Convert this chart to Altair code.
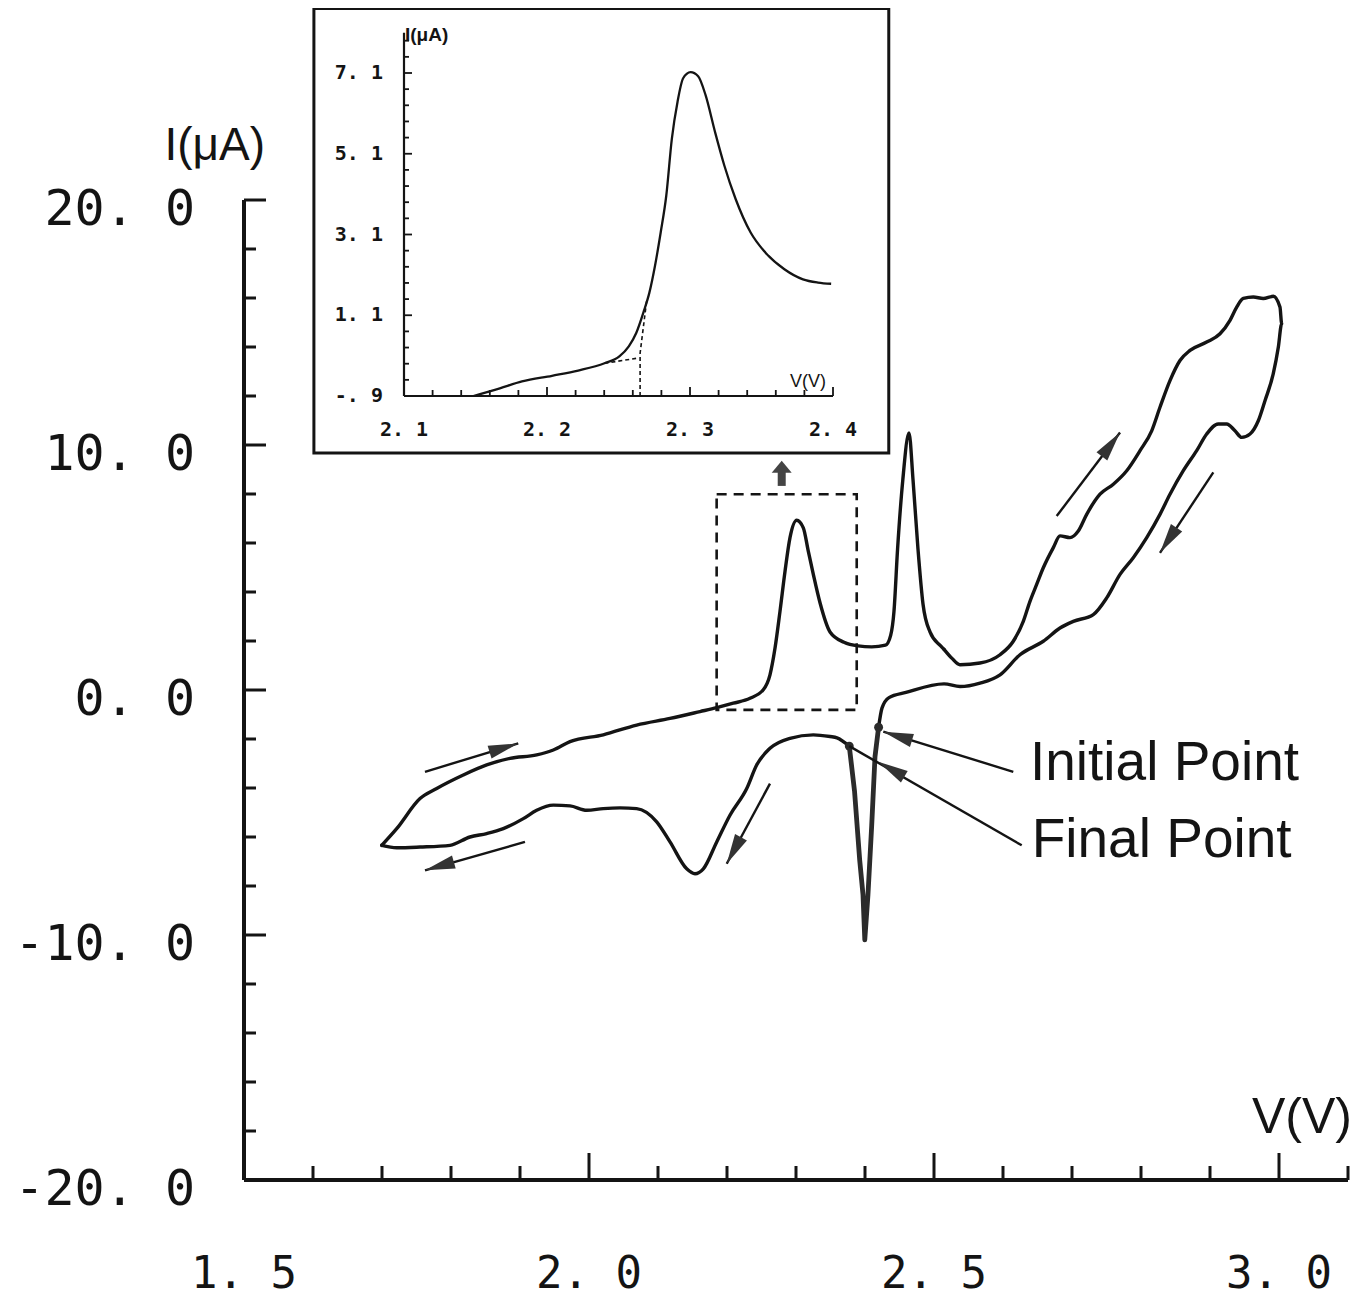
import math
import altair as alt
import pandas as pd

# ---------------- data (V in volts, I in microamps) ----------------
# main cyclic voltammogram, split into four consecutive pieces of one closed trace
fwd_right_v = [2.4197, 2.4246, 2.4348, 2.4594, 2.5145, 2.5377, 2.5667, 2.5957, 2.6246, 2.6584,
               2.6826, 2.7019, 2.7309, 2.7503, 2.7696, 2.7888, 2.8083, 2.8275, 2.8420, 2.8613,
               2.8807, 2.8952, 2.9120, 2.9242, 2.9362, 2.9459, 2.9580, 2.9700, 2.9797, 2.9917,
               2.9990, 3.0039, 3.0014, 2.9917, 2.9772, 2.9628, 2.9483, 2.9387, 2.9290, 2.9145,
               2.8952, 2.8710, 2.8565, 2.8420, 2.8275, 2.8155, 2.7986, 2.7793, 2.7599, 2.7406,
               2.7213, 2.7091, 2.6971, 2.6826, 2.6729, 2.6584, 2.6488, 2.6391, 2.6294, 2.6149,
               2.5957, 2.5667, 2.5377, 2.5261, 2.5145]
fwd_right_i = [-1.52, -0.74, -0.31, -0.10, 0.25, 0.14, 0.28, 0.62, 1.44, 1.99,
               2.53, 2.80, 3.08, 3.76, 4.72, 5.40, 6.22, 7.17, 7.99, 8.95,
               9.77, 10.45, 10.86, 10.86, 10.58, 10.31, 10.45, 10.99, 11.81, 12.91,
               13.99, 14.95, 15.63, 16.07, 15.98, 16.04, 15.98, 15.63, 15.09, 14.54,
               14.20, 13.86, 13.45, 12.63, 11.54, 10.58, 9.77, 8.95, 8.40, 7.99,
               7.17, 6.49, 6.22, 6.29, 5.81, 4.99, 4.31, 3.62, 2.80, 1.99,
               1.44, 1.10, 1.03, 1.29, 1.66]
peaks_v = [2.5145, 2.5097, 2.4942, 2.4841, 2.4768, 2.4696, 2.4638, 2.4548, 2.4472, 2.4420,
           2.4372, 2.4297, 2.4097, 2.3899, 2.3696, 2.3493, 2.3348, 2.3251, 2.3178, 2.3106,
           2.3010, 2.2913, 2.2841, 2.2768, 2.2696, 2.2623, 2.2526, 2.2333, 2.2091, 2.1851,
           2.1609, 2.1174, 2.0691, 2.0207, 1.9725, 1.9483, 1.9242, 1.8855, 1.8517, 1.8178,
           1.7793, 1.7551, 1.7213, 1.6996]
peaks_i = [1.66, 1.80, 2.37, 3.50, 5.75, 8.58, 10.49, 8.58, 5.75, 3.21,
           2.23, 1.83, 1.76, 1.80, 1.95, 2.37, 3.56, 4.72, 5.67, 6.62,
           6.93, 6.22, 4.85, 3.21, 1.71, 0.62, 0.01, -0.34, -0.54, -0.72,
           -0.88, -1.16, -1.43, -1.83, -2.11, -2.45, -2.65, -2.79, -3.06, -3.47,
           -4.02, -4.43, -5.66, -6.34]
return_left_v = [1.6996, 1.7213, 1.7551, 1.7986, 1.8275, 1.8517, 1.8758, 1.9048, 1.9242, 1.9483,
                 1.9725, 1.9967, 2.0207, 2.0449, 2.0691, 2.0981, 2.1174, 2.1416, 2.1536, 2.1657,
                 2.1851, 2.2043, 2.2286, 2.2430, 2.2623, 2.2913, 2.3251, 2.3493, 2.3594, 2.3772]
return_left_i = [-6.34, -6.44, -6.41, -6.34, -6.00, -5.86, -5.66, -5.25, -4.91, -4.70,
                 -4.73, -4.91, -4.84, -4.81, -4.84, -5.38, -6.20, -7.30, -7.50, -7.30,
                 -6.20, -5.11, -4.02, -3.06, -2.38, -1.97, -1.83, -1.90, -1.95, -2.29]
spike_v = [2.3772, 2.3848, 2.3923, 2.3971, 2.3997, 2.4043, 2.4097, 2.4145, 2.4197]
spike_i = [-2.29, -4.12, -6.94, -8.36, -10.20, -8.36, -5.54, -2.72, -1.52]

# initial / final points
marker_v = [2.4197, 2.3772]
marker_i = [-1.52, -2.29]

# sweep-direction arrows (tail -> tip)
arrow_tail_v = [1.7623, 1.9072, 2.2623, 2.6778, 2.9048]
arrow_tail_i = [-3.34, -6.20, -3.82, 7.10, 8.88]
arrow_tip_v = [1.8975, 1.7623, 2.1996, 2.7696, 2.8275]
arrow_tip_i = [-2.18, -7.36, -7.09, 10.51, 5.60]

# callouts: text anchor, line end, arrow head tip
callout_text = ["Initial Point", "Final Point"]
callout_text_v = [2.6391, 2.6416]
callout_text_i = [-3.66, -6.82]
callout_tail_v = [2.6149, 2.6271]
callout_tail_i = [-3.34, -6.34]
callout_end_v = [2.4265, 2.3772]
callout_end_i = [-1.70, -2.29]
callout_head_v = [2.4265, 2.4193]
callout_head_i = [-1.70, -2.93]

# dashed zoom box and the block arrow pointing to the inset
zoom_box_v = [2.185, 2.388]
zoom_box_i = [-0.81, 7.99]
up_arrow_v = [2.2793]
up_arrow_i = [8.33, 9.36]

# main axes
main_x_major = [2.0, 2.5, 3.0]
main_x_minor = [1.6, 1.7, 1.8, 1.9, 2.1, 2.2, 2.3, 2.4, 2.6, 2.7, 2.8, 2.9, 3.1]
main_x_label_vals = [1.5, 2.0, 2.5, 3.0]
main_x_labels = ["1. 5", "2. 0", "2. 5", "3. 0"]
main_y_major = [-20, -10, 0, 10, 20]
main_y_minor = [-18, -16, -14, -12, -8, -6, -4, -2, 2, 4, 6, 8, 12, 14, 16, 18]
main_y_label_vals = [-20, -10, 0, 10, 20]
main_y_labels = ["-20. 0", "-10. 0", "0. 0", "10. 0", "20. 0"]

# inset (zoom of the 2.1-2.4 V region)
inset_v = [2.1485, 2.167, 2.1825, 2.2035, 2.2218, 2.2402, 2.2506, 2.2572, 2.2624, 2.2677,
           2.2716, 2.2755, 2.2795, 2.2834, 2.2873, 2.2913, 2.2952, 2.3004, 2.3057, 2.3109,
           2.3175, 2.324, 2.3319, 2.3424, 2.3528, 2.366, 2.379, 2.3895, 2.3987]
inset_i = [-0.9, -0.71, -0.54, -0.40, -0.27, -0.09, 0.08, 0.33, 0.66, 1.20,
           1.66, 2.32, 3.15, 4.06, 5.47, 6.39, 6.97, 7.12, 7.02, 6.55,
           5.64, 4.81, 3.98, 3.15, 2.65, 2.24, 1.99, 1.91, 1.88]
inset_tangent_v = [2.2402, 2.2638]
inset_tangent_i = [-0.09, 0.04]
inset_drop_v = [2.2651, 2.2651, 2.2698]
inset_drop_i = [-0.9, 0.16, 1.49]
inset_frame_v = [2.037, 2.439]
inset_frame_i = [-2.31, 8.70]
inset_x_minor = [2.12, 2.14, 2.16, 2.18, 2.22, 2.24, 2.26, 2.28, 2.32, 2.34, 2.36, 2.38]
inset_x_major = [2.2, 2.3, 2.4]
inset_x_label_vals = [2.1, 2.2, 2.3, 2.4]
inset_x_labels = ["2. 1", "2. 2", "2. 3", "2. 4"]
inset_y_minor = [-0.5, -0.1, 0.3, 0.7, 1.5, 1.9, 2.3, 2.7, 3.5, 3.9, 4.3, 4.7,
                 5.5, 5.9, 6.3, 6.7, 7.5, 7.9]
inset_y_major = [1.1, 3.1, 5.1, 7.1]
inset_y_label_vals = [-0.9, 1.1, 3.1, 5.1, 7.1]
inset_y_labels = ["-. 9", "1. 1", "3. 1", "5. 1", "7. 1"]
inset_y_top = 8.1

# ---------------- scales (both panels share one view) ----------------
W, H = 1355, 1296
MX_D, MX_R = [1.5, 3.1], [236, 1340]
MY_D, MY_R = [-20, 20], [1172, 192]
IX_D, IX_R = [2.1, 2.4], [396, 825]
IY_D, IY_R = [-0.9, 7.1], [388, 65]

def scale(d, r):
    return alt.Scale(domain=d, range=r, zero=False, nice=False)

mx, my = scale(MX_D, MX_R), scale(MY_D, MY_R)
ix, iy = scale(IX_D, IX_R), scale(IY_D, IY_R)
PXV = (MX_R[1] - MX_R[0]) / (MX_D[1] - MX_D[0])
PXI = (MY_R[0] - MY_R[1]) / (MY_D[1] - MY_D[0])
IPXV = (IX_R[1] - IX_R[0]) / (IX_D[1] - IX_D[0])
IPXI = (IY_R[0] - IY_R[1]) / (IY_D[1] - IY_D[0])

INK = "#141414"
MONO = "DejaVu Sans Mono"
SANS = "Liberation Sans"
HEAD = "M0,0 L0.45,2 L-0.45,2 Z"      # arrow head with its tip at the anchor
BLOCK_HEAD = "M0,0 L1,1.2 L-1,1.2 Z"


def xy(sx, sy):
    return dict(x=alt.X("v:Q", scale=sx, axis=None), y=alt.Y("i:Q", scale=sy, axis=None))


def xy2():
    return dict(x2=alt.X2("v2:Q"), y2=alt.Y2("i2:Q"))


def rules(df, sx, sy, **kw):
    return alt.Chart(df).mark_rule(**kw).encode(**xy(sx, sy), **xy2())


def seg(v, i, name):
    return pd.DataFrame({"v": v, "i": i, "seg": name, "k": range(len(v))})


def angle(v0, i0, v1, i1, pxv, pxi):
    dx = (v1 - v0) * pxv
    dy = -(i1 - i0) * pxi
    return math.degrees(math.atan2(dx, -dy)) % 360


# ---------------- main panel ----------------
curve = pd.concat([seg(fwd_right_v, fwd_right_i, "a"), seg(peaks_v, peaks_i, "b"),
                   seg(return_left_v, return_left_i, "c")])
main_line = alt.Chart(curve).mark_line(color=INK, strokeWidth=3.4, strokeJoin="round",
                                       strokeCap="round", interpolate="monotone").encode(
    **xy(mx, my), detail="seg:N", order="k:Q")
spike_line = alt.Chart(seg(spike_v, spike_i, "d")).mark_line(
    color="#2b2b2b", strokeWidth=4.8, strokeJoin="round", strokeCap="round").encode(
    **xy(mx, my), order="k:Q")
markers = alt.Chart(pd.DataFrame({"v": marker_v, "i": marker_i})).mark_point(
    filled=True, color="#2b2b2b", size=80, opacity=1).encode(**xy(mx, my))

axis_lines = rules(pd.DataFrame({"v": [1.5, 1.5], "i": [-20, -20], "v2": [1.5, 3.1], "i2": [20, -20]}),
                   mx, my, color=INK, strokeWidth=4)
y_ticks = pd.DataFrame({"i": main_y_major + main_y_minor})
y_ticks["v"] = 1.5
y_ticks["v2"] = [1.5 + (22 if t in main_y_major else 12) / PXV for t in y_ticks["i"]]
y_ticks["i2"] = y_ticks["i"]
x_ticks = pd.DataFrame({"v": main_x_major + main_x_minor})
x_ticks["i"] = -20
x_ticks["v2"] = x_ticks["v"]
x_ticks["i2"] = [-20 + (27 if t in main_x_major else 14) / PXI for t in x_ticks["v"]]
tick_rules = rules(pd.concat([y_ticks, x_ticks]), mx, my, color=INK, strokeWidth=3)

y_labels = alt.Chart(pd.DataFrame({"v": 1.5, "i": main_y_label_vals, "t": main_y_labels})).mark_text(
    align="right", baseline="middle", dx=-49, dy=10, font=MONO, fontSize=50, color=INK).encode(
    **xy(mx, my), text="t:N")
x_labels = alt.Chart(pd.DataFrame({"v": main_x_label_vals, "i": -20, "t": main_x_labels})).mark_text(
    align="center", baseline="alphabetic", dy=108, font=MONO, fontSize=44, color=INK).encode(
    **xy(mx, my), text="t:N")
y_title = alt.Chart(pd.DataFrame({"v": [1.5], "i": [20], "t": ["I(μA)"]})).mark_text(
    align="right", baseline="alphabetic", dx=21, dy=-40, font=SANS, fontSize=46, color=INK).encode(
    **xy(mx, my), text="t:N")
x_title = alt.Chart(pd.DataFrame({"v": [3.1], "i": [-20], "t": ["V(V)"]})).mark_text(
    align="right", baseline="alphabetic", dx=4, dy=-47, font=SANS, fontSize=50, color=INK).encode(
    **xy(mx, my), text="t:N")

arrows = pd.DataFrame({"v": arrow_tail_v, "i": arrow_tail_i, "v2": arrow_tip_v, "i2": arrow_tip_i})
arrow_shafts = rules(arrows, mx, my, color=INK, strokeWidth=2.4)
arrow_heads_df = pd.DataFrame({
    "v": arrow_tip_v, "i": arrow_tip_i,
    "ang": [angle(a, b, c, d, PXV, PXI) for a, b, c, d in
            zip(arrow_tail_v, arrow_tail_i, arrow_tip_v, arrow_tip_i)]})

callouts = pd.DataFrame({"v": callout_tail_v, "i": callout_tail_i, "v2": callout_end_v, "i2": callout_end_i})
callout_lines = rules(callouts, mx, my, color=INK, strokeWidth=2.4)
callout_heads_df = pd.DataFrame({
    "v": callout_head_v, "i": callout_head_i,
    "ang": [angle(a, b, c, d, PXV, PXI) for a, b, c, d in
            zip(callout_tail_v, callout_tail_i, callout_end_v, callout_end_i)]})
heads = alt.Chart(pd.concat([arrow_heads_df, callout_heads_df])).mark_point(
    shape=HEAD, filled=True, color="#333333", size=900, opacity=1).encode(
    **xy(mx, my), angle=alt.Angle("ang:Q", scale=None))
callout_labels = alt.Chart(pd.DataFrame({"v": callout_text_v, "i": callout_text_i, "t": callout_text})).mark_text(
    align="left", baseline="alphabetic", font=SANS, fontSize=55, color=INK).encode(
    **xy(mx, my), text="t:N")

zoom_box = alt.Chart(pd.DataFrame({"v": [zoom_box_v[0]], "v2": [zoom_box_v[1]],
                                   "i": [zoom_box_i[0]], "i2": [zoom_box_i[1]]})).mark_rect(
    fillOpacity=0, stroke=INK, strokeWidth=2.6, strokeDash=[10, 7]).encode(**xy(mx, my), **xy2())
block_shaft = rules(pd.DataFrame({"v": up_arrow_v, "i": [up_arrow_i[0]], "v2": up_arrow_v,
                                  "i2": [up_arrow_i[1] - 11 / PXI]}), mx, my, color="#444444", strokeWidth=8)
block_head = alt.Chart(pd.DataFrame({"v": up_arrow_v, "i": [up_arrow_i[1]], "ang": [0]})).mark_point(
    shape=BLOCK_HEAD, filled=True, color="#444444", size=400, opacity=1).encode(
    **xy(mx, my), angle=alt.Angle("ang:Q", scale=None))

main = alt.layer(axis_lines, tick_rules, zoom_box, main_line, spike_line, markers,
                 arrow_shafts, callout_lines, heads, block_shaft, block_head,
                 y_labels, x_labels, y_title, x_title, callout_labels)

# ---------------- inset panel ----------------
frame = alt.Chart(pd.DataFrame({"v": [inset_frame_v[0]], "v2": [inset_frame_v[1]],
                                "i": [inset_frame_i[0]], "i2": [inset_frame_i[1]]})).mark_rect(
    fill="white", stroke=INK, strokeWidth=3).encode(**xy(ix, iy), **xy2())
inset_axes = rules(pd.DataFrame({"v": [2.1, 2.1], "i": [-0.9, -0.9], "v2": [2.1, 2.4],
                                 "i2": [inset_y_top, -0.9]}), ix, iy, color=INK, strokeWidth=2.2)
iy_ticks = pd.DataFrame({"i": inset_y_major + inset_y_minor})
iy_ticks["v"] = 2.1
iy_ticks["v2"] = [2.1 + (8 if t in inset_y_major else 5) / IPXV for t in iy_ticks["i"]]
iy_ticks["i2"] = iy_ticks["i"]
ix_ticks = pd.DataFrame({"v": inset_x_major + inset_x_minor})
ix_ticks["i"] = -0.9
ix_ticks["v2"] = ix_ticks["v"]
ix_ticks["i2"] = [-0.9 + (9 if t in inset_x_major else 6) / IPXI for t in ix_ticks["v"]]
inset_ticks = rules(pd.concat([iy_ticks, ix_ticks]), ix, iy, color=INK, strokeWidth=1.8)
inset_line = alt.Chart(seg(inset_v, inset_i, "p")).mark_line(
    color=INK, strokeWidth=2.3, strokeJoin="round", interpolate="monotone").encode(**xy(ix, iy), order="k:Q")
inset_dash = alt.Chart(pd.concat([seg(inset_tangent_v, inset_tangent_i, "t"),
                                  seg(inset_drop_v, inset_drop_i, "d")])).mark_line(
    color=INK, strokeWidth=1.6, strokeDash=[4, 3]).encode(**xy(ix, iy), detail="seg:N", order="k:Q")
iy_labels = alt.Chart(pd.DataFrame({"v": 2.1, "i": inset_y_label_vals, "t": inset_y_labels})).mark_text(
    align="right", baseline="middle", dx=-21, font=MONO, fontSize=20, fontWeight="bold", color=INK).encode(
    **xy(ix, iy), text="t:N")
ix_labels = alt.Chart(pd.DataFrame({"v": inset_x_label_vals, "i": -0.9, "t": inset_x_labels})).mark_text(
    align="center", baseline="middle", dy=34, font=MONO, fontSize=20, fontWeight="bold", color=INK).encode(
    **xy(ix, iy), text="t:N")
iy_title = alt.Chart(pd.DataFrame({"v": [2.1], "i": [inset_y_top], "t": ["I(μA)"]})).mark_text(
    align="left", baseline="alphabetic", dx=1, dy=8, font=SANS, fontSize=19, fontWeight="bold", color=INK).encode(
    **xy(ix, iy), text="t:N")
ix_title = alt.Chart(pd.DataFrame({"v": [2.4], "i": [-0.9], "t": ["V(V)"]})).mark_text(
    align="right", baseline="alphabetic", dx=-7, dy=-9, font=SANS, fontSize=18, color=INK).encode(
    **xy(ix, iy), text="t:N")

inset = alt.layer(frame, inset_axes, inset_ticks, inset_dash, inset_line,
                  iy_labels, ix_labels, iy_title, ix_title)

chart = alt.layer(main, inset).resolve_scale(x="independent", y="independent").properties(
    width=W, height=H, padding=0, autosize=alt.AutoSizeParams(type="none")
).configure_view(strokeWidth=0)

chart.save("out.html", embed_options={"renderer": "svg", "actions": False})
